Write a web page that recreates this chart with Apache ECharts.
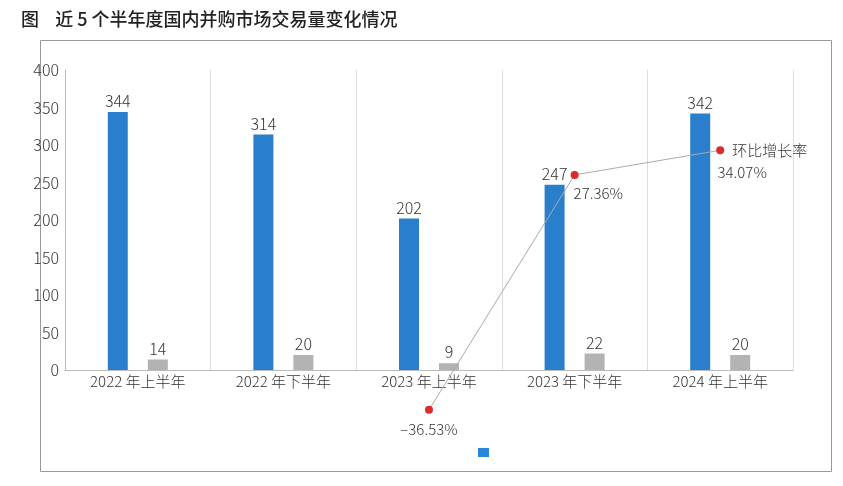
<!DOCTYPE html>
<html><head><meta charset="utf-8">
<script src="https://cdn.jsdelivr.net/npm/echarts@6/dist/echarts.min.js"></script>
<style>html,body{margin:0;padding:0;background:#fff}#c{width:843px;height:486px}</style>
</head><body><div id="c"></div>
<script>
const categories = ['2022 年上半年','2022 年下半年','2023 年上半年','2023 年下半年','2024 年上半年'];
const countA = [344, 314, 202, 247, 342];
const countB = [14, 20, 9, 22, 20];
const growth = [null, null, -36.53, 27.36, 34.07];
const yTicks = [0, 50, 100, 150, 200, 250, 300, 350, 400];

const font = '"Noto Sans CJK SC", "Noto Sans", sans-serif';
const chart = echarts.init(document.getElementById('c'));
chart.setOption({
  animation: false,
  textStyle: { fontFamily: font },
  title: { text: '图    近 5 个半年度国内并购市场交易量变化情况', left: 16, top: 5,
    textStyle: { fontSize: 18, fontWeight: 500, color: '#222', fontFamily: font } },
  graphic: [
    { type: 'rect', shape: { x: 40.5, y: 40.5, width: 791, height: 431 }, style: { fill: 'none', stroke: '#999', lineWidth: 1 } },
    { type: 'rect', shape: { x: 478, y: 448, width: 11, height: 9 }, style: { fill: '#2a86d6' } }
  ],
  grid: { left: 65, right: 50, top: 70, bottom: 116 },
  xAxis: {
    type: 'category', data: categories,
    axisLine: { lineStyle: { color: '#bbb' } }, axisTick: { show: false },
    axisLabel: { color: '#333', fontSize: 15, margin: 4, fontWeight: 300 },
    splitLine: { show: true, lineStyle: { color: '#ddd' } }
  },
  yAxis: [
    { type: 'value', min: 0, max: 400, interval: 50,
      axisLine: { show: true, lineStyle: { color: '#bbb' } }, axisTick: { show: false },
      axisLabel: { color: '#333', fontSize: 16, margin: 6, fontWeight: 300 }, splitLine: { show: false } },
    { type: 'value', min: -25.7, max: 55.9, show: false, splitLine: { show: false } }
  ],
  series: [
    { type: 'bar', data: countA, barWidth: 20, barGap: '100%',
      itemStyle: { color: '#2a7fcc' },
      label: { show: true, position: 'top', color: '#333', fontSize: 16, distance: 3, fontWeight: 300 } },
    { type: 'bar', data: countB, barWidth: 20,
      itemStyle: { color: '#b3b3b3' },
      label: { show: true, position: 'top', color: '#333', fontSize: 16, distance: 3, fontWeight: 300 } },
    { type: 'line', yAxisIndex: 1, data: growth.map((v, i) => {
        const o = { value: v };
        if (i === 2) o.label = { position: 'bottom', distance: 8 };
        if (i === 3) o.label = { position: 'right', offset: [-10, 18] };
        if (i === 4) o.label = { position: 'bottom', offset: [22, 6] };
        return o;
      }),
      clip: false, symbol: 'circle', symbolSize: 8,
      itemStyle: { color: '#d92b2b' },
      lineStyle: { color: '#aaa', width: 1 },
      label: { show: true, color: '#333', fontSize: 15, fontWeight: 300,
        formatter: p => (p.value < 0 ? '–' + Math.abs(p.value).toFixed(2) : p.value.toFixed(2)) + '%' },
      endLabel: { show: true, formatter: '环比增长率', color: '#333', fontSize: 15, distance: 12, fontWeight: 300 } }
  ]
});
</script></body></html>
